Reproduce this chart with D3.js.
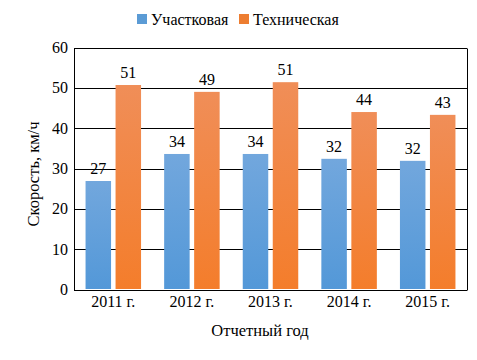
<!DOCTYPE html>
<html><head><meta charset="utf-8">
<script src="https://cdn.jsdelivr.net/npm/d3@7"></script>
<style>body{margin:0;background:#fff}svg{display:block}text{font-family:"Liberation Serif","Times New Roman",serif;fill:#000}</style>
</head><body><svg id="c" width="477" height="360"></svg>
<script>
const categories = ["2011 г.","2012 г.","2013 г.","2014 г.","2015 г."];
const seriesNames = ["Участковая","Техническая"];
const uchastkovaya = [26.9, 33.6, 33.6, 32.4, 31.9];
const tekhnicheskaya = [50.7, 49.0, 51.4, 44.0, 43.3];
const yTicks = [0,10,20,30,40,50,60];
const colors = [["#72a7dd","#5398d8"],["#f08e58","#f47d2b"]];
const legendColors = ["#5b9bd5","#ed7d31"];

const svg = d3.select("#c");
const m = {l:74, r:467, t:47.5, b:289.5};
const x = d3.scaleBand().domain(categories).range([m.l, m.r]).paddingInner(0).paddingOuter(0);
const y = d3.scaleLinear().domain([0,60]).range([m.b, m.t]);
const barW = 25.5, gap = 4.5;

const defs = svg.append("defs");
colors.forEach((c,i)=>{
  const g = defs.append("linearGradient").attr("id","g"+i).attr("x1",0).attr("y1",0).attr("x2",0).attr("y2",1);
  g.append("stop").attr("offset","0%").attr("stop-color",c[0]);
  g.append("stop").attr("offset","100%").attr("stop-color",c[1]);
});

svg.append("g").selectAll("line").data(yTicks).join("line")
  .attr("x1",m.l).attr("x2",m.r).attr("y1",d=>Math.round(y(d))+0.5).attr("y2",d=>Math.round(y(d))+0.5)
  .attr("stroke","#000").attr("stroke-width",1);
[m.l, m.r].forEach(xx=>{
  svg.append("line").attr("x1",Math.round(xx)+0.5).attr("x2",Math.round(xx)+0.5)
    .attr("y1",Math.round(y(60))+0.5).attr("y2",Math.round(y(0))+0.5).attr("stroke","#000");
});

const series = [uchastkovaya, tekhnicheskaya];
series.forEach((vals,si)=>{
  const off = si===0 ? -(gap/2+barW) : gap/2;
  svg.append("g").selectAll("rect").data(vals).join("rect")
    .attr("x",(d,i)=>x(categories[i])+x.bandwidth()/2+off)
    .attr("y",d=>y(d)).attr("width",barW).attr("height",d=>y(0)-y(d)-0.5)
    .attr("fill","url(#g"+si+")");
  svg.append("g").selectAll("text").data(vals).join("text")
    .attr("x",(d,i)=>x(categories[i])+x.bandwidth()/2+off+barW/2)
    .attr("y",d=>y(d)-7).attr("text-anchor","middle").attr("font-size",16)
    .text(d=>Math.round(d));
});

svg.append("g").selectAll("text").data(yTicks).join("text")
  .attr("x",68).attr("y",d=>y(d)+5.5).attr("text-anchor","end").attr("font-size",16).text(d=>d);
svg.append("g").selectAll("text").data(categories).join("text")
  .attr("x",d=>x(d)+x.bandwidth()/2).attr("y",307).attr("text-anchor","middle").attr("font-size",16).text(d=>d);

svg.append("text").attr("x",260).attr("y",336).attr("text-anchor","middle").attr("font-size",16.5).text("Отчетный год");
svg.append("text").attr("transform","translate(39,174) rotate(-90)").attr("text-anchor","middle").attr("font-size",16.5).text("Скорость, км/ч");

const leg = [{x:137,tx:151},{x:239,tx:253}];
seriesNames.forEach((n,i)=>{
  svg.append("rect").attr("x",leg[i].x).attr("y",14).attr("width",10).attr("height",10).attr("fill",legendColors[i]);
  svg.append("text").attr("x",leg[i].tx).attr("y",25).attr("font-size",16).text(n);
});
</script></body></html>
